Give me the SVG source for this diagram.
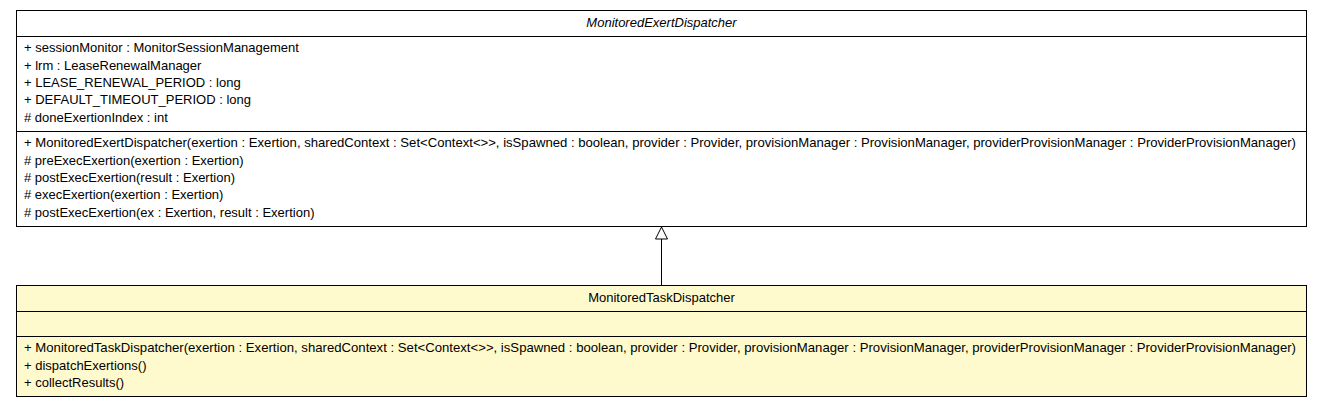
<svg xmlns="http://www.w3.org/2000/svg" width="1323" height="408" viewBox="0 0 1323 408">
<style>
.box{stroke:#000;stroke-width:1}
.div{stroke:#000;stroke-width:1}
text{font-family:"Liberation Sans",Arial,sans-serif;font-size:13px;fill:#000}
.title{text-anchor:middle}
.it{font-style:italic}
</style>
<defs>
<marker id="gen" markerWidth="14" markerHeight="14" refX="13" refY="7" orient="auto" markerUnits="userSpaceOnUse" viewBox="0 0 14 14">
<path d="M13,7 L1,1 L1,13 Z" fill="#fff" stroke="#000" stroke-width="1"/>
</marker>
</defs>
<rect width="1323" height="408" fill="#fff"/>
<g id="MonitoredExertDispatcher">
<rect class="box" x="16.5" y="10.5" width="1290" height="216" fill="#fff"/>
<line class="div" x1="16.5" y1="36.5" x2="1306.5" y2="36.5"/>
<line class="div" x1="16.5" y1="131.5" x2="1306.5" y2="131.5"/>
<text class="title it" x="661.5" y="27">MonitoredExertDispatcher</text>
<text x="24" y="52">+ sessionMonitor : MonitorSessionManagement</text>
<text x="24" y="70">+ lrm : LeaseRenewalManager</text>
<text x="24" y="87">+ LEASE_RENEWAL_PERIOD : long</text>
<text x="24" y="104">+ DEFAULT_TIMEOUT_PERIOD : long</text>
<text x="24" y="122"># doneExertionIndex : int</text>
<text x="24" y="147" textLength="1272" lengthAdjust="spacingAndGlyphs">+ MonitoredExertDispatcher(exertion : Exertion, sharedContext : Set&lt;Context&lt;&gt;&gt;, isSpawned : boolean, provider : Provider, provisionManager : ProvisionManager, providerProvisionManager : ProviderProvisionManager)</text>
<text x="24" y="165"># preExecExertion(exertion : Exertion)</text>
<text x="24" y="182"># postExecExertion(result : Exertion)</text>
<text x="24" y="199"># execExertion(exertion : Exertion)</text>
<text x="24" y="217"># postExecExertion(ex : Exertion, result : Exertion)</text>
</g>
<g id="MonitoredTaskDispatcher">
<rect class="box" x="16.5" y="285.5" width="1290" height="111" fill="#fffacd"/>
<line class="div" x1="16.5" y1="311.5" x2="1306.5" y2="311.5"/>
<line class="div" x1="16.5" y1="336.5" x2="1306.5" y2="336.5"/>
<text class="title" x="661.5" y="302">MonitoredTaskDispatcher</text>
<text x="24" y="352" textLength="1272" lengthAdjust="spacingAndGlyphs">+ MonitoredTaskDispatcher(exertion : Exertion, sharedContext : Set&lt;Context&lt;&gt;&gt;, isSpawned : boolean, provider : Provider, provisionManager : ProvisionManager, providerProvisionManager : ProviderProvisionManager)</text>
<text x="24" y="370">+ dispatchExertions()</text>
<text x="24" y="387">+ collectResults()</text>
</g>
<g id="connectors">
<line x1="661.5" y1="285" x2="661.5" y2="227" stroke="#000" stroke-width="1" marker-end="url(#gen)"/>
</g>
</svg>
